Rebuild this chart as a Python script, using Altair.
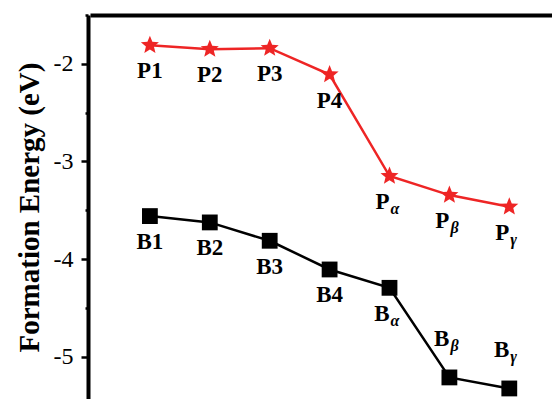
import altair as alt
import pandas as pd

positions = [1, 2, 3, 4, 5, 6, 7]
p_main = ["P1", "P2", "P3", "P4", "P", "P", "P"]
b_main = ["B1", "B2", "B3", "B4", "B", "B", "B"]
subs = ["", "", "", "", "α", "β", "γ"]
p_energy = [-1.81, -1.85, -1.84, -2.11, -3.15, -3.345, -3.465]
b_energy = [-3.56, -3.625, -3.813, -4.107, -4.295, -5.213, -5.326]
labels_above = ["Bβ", "Bγ"]
y_ticks = [-5, -4.5, -4, -3.5, -3, -2.5, -2, -1.5]

RED = "#ee2525"
FONT = "Liberation Serif"
STAR = ("M0,-1 L0.26,-0.36 L0.951,-0.309 L0.42,0.137 L0.588,0.809 L0,0.44 "
        "L-0.588,0.809 L-0.42,0.137 L-0.951,-0.309 L-0.26,-0.36 Z")

xs = alt.Scale(domain=[0, 7.713], nice=False, zero=False)
ys = alt.Scale(domain=[-5.434, -1.5], nice=False, zero=False)

X = alt.X("x:Q", scale=xs, axis=alt.Axis(orient="top", title=None, labels=False, ticks=False,
                                          domainWidth=4, domainColor="black", grid=False))
Y = alt.Y("y:Q", scale=ys, axis=alt.Axis(
    values=y_ticks,
    labelExpr="datum.value % 1 == 0 ? toString(datum.value) : ''",
    title="Formation Energy (eV)", grid=False, offset=2,
    domainWidth=4, domainColor="black", tickColor="black", tickWidth=2.5,
    tickSize=alt.ExprRef("datum.value % 1 == 0 ? 7 : 3"),
    labelFont=FONT, labelFontSize=24, labelColor="black", labelPadding=8,
    titleFont=FONT, titleFontSize=29, titleFontWeight="bold", titleColor="black", titlePadding=9))

layers = []
groups = {}
for series, mains, vals, color, shape, size in [
        ("P", p_main, p_energy, RED, STAR, 360),
        ("B", b_main, b_energy, "black", "square", 250)]:
    d = pd.DataFrame({"x": positions, "y": vals, "main": mains, "sub": subs})
    d["name"] = d["main"] + d["sub"]
    layers.append(alt.Chart(d).mark_line(color=color, strokeWidth=2.5).encode(x=X, y=Y))
    layers.append(alt.Chart(d).mark_point(shape=shape, filled=True, size=size, color=color,
                                          opacity=1).encode(x=X, y=Y))
    for _, r in d.iterrows():
        place = "above" if r["name"] in labels_above else "below"
        key = (place, r["sub"] != "")
        groups.setdefault(key, []).append(r)

for (place, has_sub), rs in groups.items():
    dy = -31 if place == "above" else 33
    d = pd.DataFrame(rs)
    if not has_sub:
        layers.append(alt.Chart(d).mark_text(font=FONT, fontWeight="bold", fontSize=23, color="black",
                                             baseline="alphabetic", dy=dy).encode(x=X, y=Y, text="main:N"))
    else:
        layers.append(alt.Chart(d).mark_text(font=FONT, fontWeight="bold", fontSize=23, color="black",
                                             baseline="alphabetic", align="right", dx=0,
                                             dy=dy).encode(x=X, y=Y, text="main:N"))
        layers.append(alt.Chart(d).mark_text(font=FONT, fontWeight="bold", fontStyle="italic", fontSize=16,
                                             color="black", baseline="alphabetic", align="left", dx=1,
                                             dy=dy + 5).encode(x=X, y=Y, text="sub:N"))

chart = alt.layer(*layers).properties(
    width=462, height=384,
    autosize=alt.AutoSizeParams(type="none"),
    padding={"left": 82, "top": 7, "right": 0, "bottom": 0},
).configure_view(stroke=None)

chart.save("out.html", embed_options={"renderer": "svg", "actions": False})
